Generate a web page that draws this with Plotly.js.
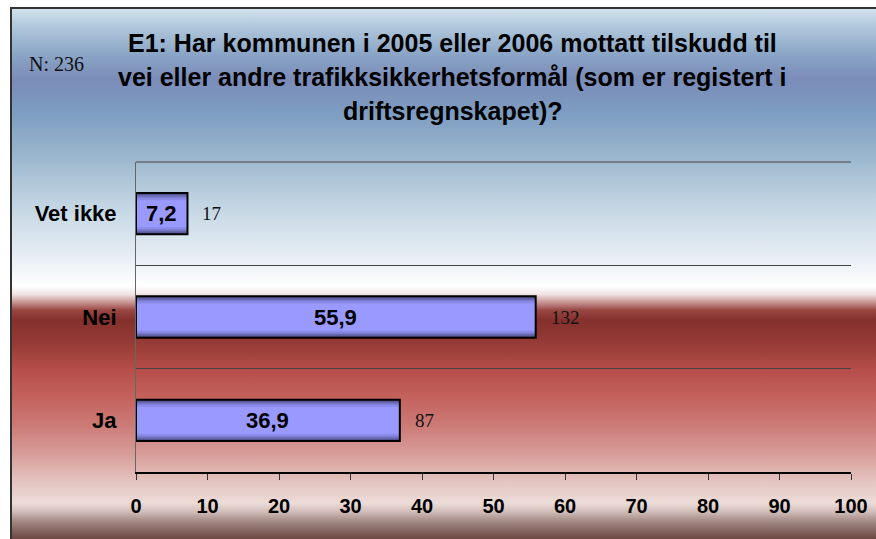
<!DOCTYPE html>
<html>
<head>
<meta charset="utf-8">
<script src="https://cdn.plot.ly/plotly-3.0.1.min.js"></script>
<style>
  body { margin: 0; width: 876px; height: 539px; overflow: hidden; position: relative; }
  #bg {
    position: absolute; left: 10px; top: 7px; right: 0; bottom: 0;
    border-top: 2px solid #333; border-left: 2px solid #333;
    background: linear-gradient(to bottom,
      #d2e2ee 0px, #aec6da 19px, #8aa4c6 46px, #7a8cb8 71px, #7e9ec2 106px,
      #9ab6cd 146px, #c2d5e3 196px, #e6edf3 246px, #ffffff 277px,
      #f2e6e6 285px, #c99896 293px, #9a4844 301px, #84302c 311px,
      #983c38 336px, #b64e4a 361px, #c3605c 386px, #cc7a76 416px,
      #d89e9a 446px, #e3c2be 471px, #ecdcd8 494px, #d0bcb8 503px,
      #a08680 513px, #6c4842 530px);
  }
  #chart { position: absolute; left: 0; top: 0; width: 876px; height: 539px; }
</style>
</head>
<body>
<div id="bg"></div>
<div id="chart"></div>
<script>
  const categories = ["Ja", "Nei", "Vet ikke"];
  const percents = [36.9, 55.9, 7.2];
  const counts = [87, 132, 17];
  const sampleSize = 236;
  const titleLines = [
    "E1: Har kommunen i 2005 eller 2006 mottatt tilskudd til",
    "vei eller andre trafikksikkerhetsformål (som er registert i",
    "driftsregnskapet)?",
  ];

  const sans = "Liberation Sans, Arial, sans-serif";
  const serif = "Liberation Serif, Times New Roman, serif";

  // plot area in pixels: x 136..851, y 162..472
  const px = (x) => (x - 136) / 715;
  const py = (y) => (472 - y) / 310;

  // bar fill gradient faked with stacked overlay layers
  const shades = ["#50508a", "#6666ad", "#7c7cd0", "#8c8cec", "#9999ff"];
  const widths = [0.40, 0.365, 0.33, 0.30, 0.26];

  const traces = shades.map((c, i) => ({
    type: "bar",
    orientation: "h",
    x: percents,
    y: categories,
    width: widths[i],
    marker: { color: c, line: { width: 0 } },
    hoverinfo: "skip",
  }));
  traces.push({
    type: "bar",
    orientation: "h",
    x: percents,
    y: categories,
    width: 0.40,
    marker: { color: "rgba(0,0,0,0)", line: { color: "#000", width: 2 } },
    hoverinfo: "skip",
  });

  const annotations = [];
  percents.forEach((p, i) => {
    annotations.push({
      x: p / 2, y: categories[i], xref: "x", yref: "y",
      text: p.toFixed(1).replace(".", ","), showarrow: false,
      font: { family: sans, size: 22, weight: "bold", color: "#000" },
    });
    annotations.push({
      x: p, y: categories[i], xref: "x", yref: "y",
      text: String(counts[i]), showarrow: false,
      xanchor: "left", xshift: 13,
      font: { family: serif, size: 19, color: "#111" },
    });
  });
  const lineY = [43, 77, 111];
  titleLines.forEach((t, i) => {
    annotations.push({
      x: px(452), y: py(lineY[i]), xref: "paper", yref: "paper",
      text: t, showarrow: false, xanchor: "center", yanchor: "middle",
      font: { family: sans, size: 25, weight: "bold", color: "#000" },
    });
  });
  annotations.push({
    x: px(27), y: py(64), xref: "paper", yref: "paper",
    text: "N: " + sampleSize, showarrow: false, xanchor: "left", yanchor: "middle",
    font: { family: serif, size: 20, color: "#111" },
  });

  Plotly.newPlot("chart", traces, {
    width: 876,
    height: 539,
    margin: { l: 136, r: 25, t: 162, b: 67 },
    paper_bgcolor: "rgba(0,0,0,0)",
    plot_bgcolor: "rgba(0,0,0,0)",
    barmode: "overlay",
    showlegend: false,
    hovermode: false,
    xaxis: {
      range: [0, 100],
      tick0: 0,
      dtick: 10,
      showgrid: false,
      zeroline: false,
      showline: true,
      linecolor: "#000",
      linewidth: 1.5,
      ticks: "outside",
      ticklen: 6,
      tickcolor: "#333",
      ticklabelstandoff: 9,
      tickfont: { family: sans, size: 20, weight: "bold", color: "#000" },
    },
    yaxis: {
      type: "category",
      categoryorder: "array",
      categoryarray: categories,
      range: [-0.5, 2.5],
      tickson: "boundaries",
      ticks: "",
      showgrid: true,
      gridcolor: "#444",
      gridwidth: 1,
      zeroline: false,
      showline: true,
      linecolor: "#666",
      linewidth: 1,
      ticklabelstandoff: 14,
      tickfont: { family: sans, size: 22, weight: "bold", color: "#000" },
    },
    shapes: [{
      type: "line", xref: "paper", yref: "paper",
      x0: 0, x1: 1, y0: 1, y1: 1,
      line: { color: "#444", width: 1 },
    }],
    annotations: annotations,
  }, { displayModeBar: false, staticPlot: true });
</script>
</body>
</html>
